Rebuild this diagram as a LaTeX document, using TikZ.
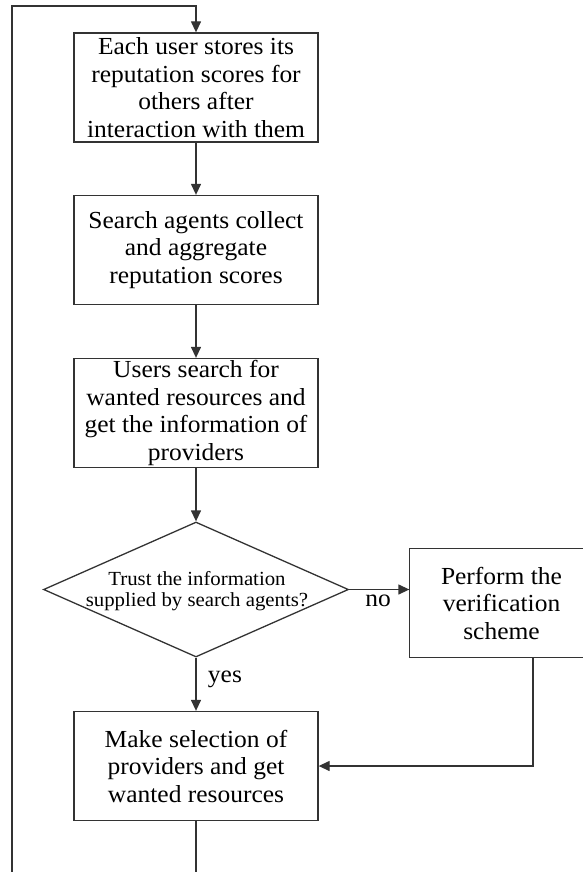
\documentclass[tikz,border=0pt]{standalone}
\usepackage{fontspec}
\setmainfont[FakeStretch=1.04]{Liberation Serif}
\usetikzlibrary{arrows.meta,shapes.geometric}
\begin{document}
\begin{tikzpicture}[x=1pt,y=-1pt,
  line/.style={draw=black!80,line width=1.3pt},
  arr/.style={line,-{Triangle[length=11pt,width=10pt]}},
  stepbox/.style={line,rectangle,minimum width=244pt,minimum height=109pt,
    inner sep=0pt,align=center,text=black,
    font=\fontsize{24.5}{27.5}\selectfont},
  decision/.style={line,diamond,minimum width=305pt,minimum height=135pt,inner sep=0pt},
  dtext/.style={align=center,text=black,font=\fontsize{20}{21}\selectfont},
  lbl/.style={text=black,font=\fontsize{24.5}{27.5}\selectfont}]
\useasboundingbox (0,0) rectangle (583,872);
\clip (0,0) rectangle (583,872);

% process steps
\node[stepbox] (store) at (196,87.5) {Each user stores its\\reputation scores for\\others after\\interaction with them};
\node[stepbox] (collect) at (196,250) {Search agents collect\\and aggregate\\reputation scores};
\node[stepbox] (search) at (196,413) {Users search for\\wanted resources and\\get the information of\\providers};
\node[decision] (trust) at (196,589.5) {};
\node[dtext] at (197,591) {Trust the information\\supplied by search agents?};
% the verification box is open on its right, where it runs off the page
\node[stepbox,draw=none,minimum width=210pt,minimum height=108pt] (verify) at (515,603) {};
\node[stepbox,draw=none,minimum width=0pt,minimum height=0pt] at (501.5,603) {Perform the\\verification\\scheme};
\draw[line] (verify.north east) -- (verify.north west) -- (verify.south west) -- (verify.south east);
\node[stepbox] (select) at (196,766) {Make selection of\\providers and get\\wanted resources};

% connectors
\draw[arr] (store) -- (collect);
\draw[arr] (collect) -- (search);
\draw[arr] (search) -- (trust);
\draw[arr] (trust.east) -- (trust.east -| verify.west);
\draw[arr] (trust) -- node[lbl,right=8pt,pos=0.4] {yes} (select);
\node[lbl] at (378,601) {no};
\draw[arr] ([xshift=18pt]verify.south) |- (select.east);

% feedback loop back to the first step
\coordinate (lb) at (12,890);
\coordinate (lt) at (12,6);
\draw[arr] (select.south) |- (lb) -- (lt) -| (store.north);
\end{tikzpicture}
\end{document}
